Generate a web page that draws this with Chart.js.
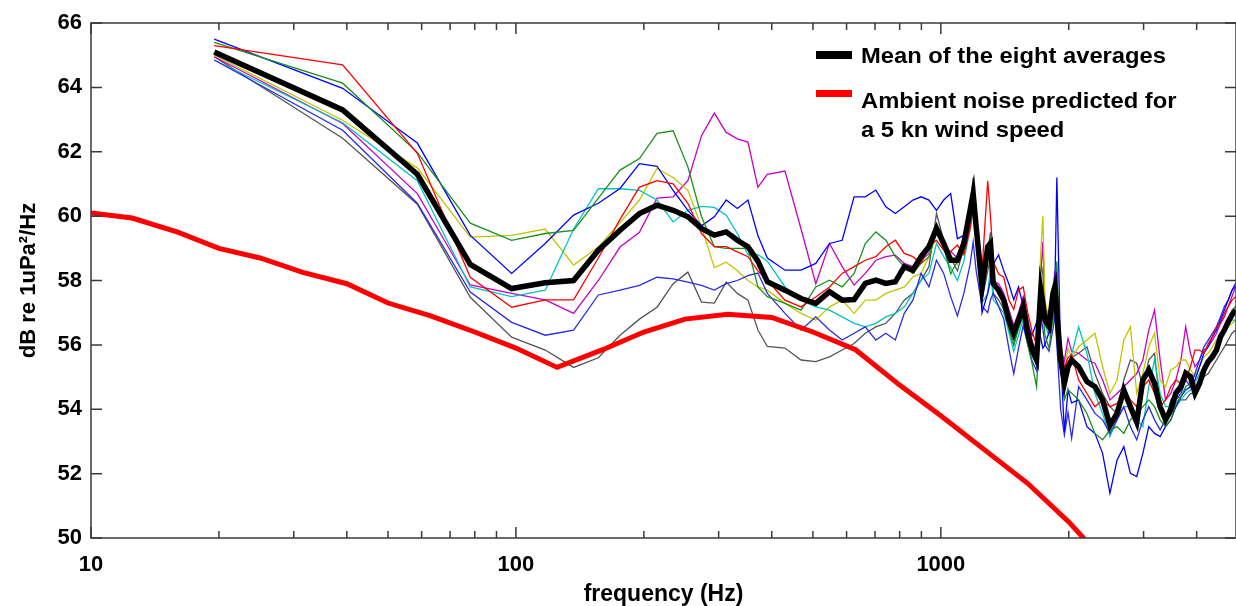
<!DOCTYPE html>
<html>
<head>
<meta charset="utf-8">
<script src="https://cdn.jsdelivr.net/npm/chart.js@4.4.1/dist/chart.umd.min.js"></script>
<style>
  html, body { margin: 0; padding: 0; background: #fff; }
</style>
</head>
<body>
<canvas id="myChart" width="1236" height="606"></canvas>
<script>
// frequency bins (Hz) of the eight averaged spectra
const freqs = [
  19.5, 39.1, 58.6, 78.1, 97.7, 117.2, 136.7, 156.3, 175.8, 195.3, 214.8, 234.4, 253.9, 273.4, 293.0, 312.5, 332.0, 351.6, 371.1, 390.6,
  429.7, 468.8, 507.8, 546.9, 585.9, 625.0, 664.1, 703.1, 742.2, 781.3, 820.3, 859.4, 898.4, 937.5, 976.6, 1015.6,
  1054.7, 1093.8, 1132.8, 1171.9, 1191.4, 1210.9, 1250.0, 1289.1, 1308.6, 1328.1, 1367.2, 1406.3, 1445.3, 1484.4, 1523.4, 1562.5, 1601.6, 1640.6, 1679.7, 1718.8, 1738.3, 1757.8, 1796.9, 1835.9, 1855.5, 1875.0, 1914.1, 1953.1, 1992.2, 2031.3,
  2109.4, 2207.0, 2304.7, 2402.3, 2500.0, 2597.7, 2695.3, 2793.0, 2890.6, 2988.3, 3085.9, 3183.6, 3281.3, 3378.9, 3476.6, 3574.2, 3671.9, 3769.5, 3867.2, 3964.8, 4062.5, 4160.2, 4257.8, 4355.5, 4453.1, 4550.8, 4648.4, 4746.1, 4843.8, 4941.4
];

const meanLevel = [
  65.1, 63.3, 61.3, 58.5, 57.75, 57.93, 58.0, 58.94, 59.56, 60.08, 60.34, 60.18, 59.98, 59.62, 59.41, 59.51, 59.25, 59.05, 58.6, 57.96,
  57.7, 57.44, 57.29, 57.65, 57.39, 57.41, 57.91, 58.01, 57.91, 57.96, 58.43, 58.32, 58.74, 59.05, 59.62, 59.15,
  58.63, 58.63, 59.15, 60.19, 60.7, 59.67, 57.8, 59.05, 59.15, 57.91, 57.7, 57.39, 56.77, 56.36, 56.77, 57.19, 56.36, 55.84, 55.53, 57.7, 57.29, 56.77, 56.57, 57.6, 57.81, 56.98, 55.53, 54.81, 55.32, 55.53,
  55.32, 54.86, 54.7, 54.29, 53.5, 53.87, 54.6, 54.08, 53.6, 54.91, 55.22, 54.8, 54.08, 53.67, 53.98, 54.5, 54.7, 55.12, 55.01, 54.5, 54.8, 55.22, 55.48, 55.63, 55.84, 56.25, 56.46, 56.72, 56.93, 57.08
];

const avgRed = [
  65.3, 64.7, 61.95, 58.1, 57.17, 57.4, 57.4, 58.7, 59.9, 60.9, 61.1, 61.0, 60.4, 59.46, 59.05, 59.05, 58.89, 58.74, 58.3, 58.0,
  57.39, 57.18, 57.49, 57.8, 58.22, 58.43, 58.63, 58.74, 59.05, 59.25, 58.84, 58.74, 58.53, 59.05, 59.25, 58.94,
  58.9, 59.1, 58.8, 59.6, 60.3, 59.4, 58.3, 61.1, 60.0, 58.6, 58.2, 58.1, 57.4, 57.1, 57.7, 57.8, 57.0, 56.4, 56.0, 57.4, 57.0, 57.1, 56.8, 57.4, 57.7, 57.2, 56.0, 55.3, 55.6, 55.7,
  54.91, 54.49, 54.08, 54.29, 54.08, 54.18, 54.49, 54.29, 54.08, 54.7, 54.91, 54.49, 54.08, 54.29, 54.7, 54.91, 54.8, 54.91, 55.32, 55.84, 55.84, 55.74, 56.04, 56.25, 56.56, 56.67, 56.98, 57.19, 57.39, 57.5
];

const avgGreen = [
  65.4, 64.13, 61.98, 59.78, 59.25, 59.46, 59.56, 60.56, 61.43, 61.79, 62.57, 62.65, 61.53, 59.98, 59.05, 59.0, 59.0, 59.0, 57.8, 57.5,
  57.29, 57.08, 57.8, 58.01, 57.8, 58.22, 59.15, 59.51, 59.25, 58.74, 58.43, 58.22, 58.53, 58.74, 59.46, 59.05,
  58.2, 58.6, 58.9, 59.8, 60.2, 59.5, 57.5, 58.6, 59.4, 57.9, 57.6, 57.4, 56.5, 56.0, 56.5, 56.9, 56.0, 55.4, 54.7, 57.2, 57.0, 56.3, 55.9, 56.8, 57.3, 58.6, 55.3, 54.3, 54.6, 54.5,
  54.29, 53.87, 53.25, 53.05, 53.36, 53.46, 53.25, 53.67, 53.87, 54.08, 54.29, 54.08, 53.67, 53.46, 53.67, 54.18, 54.39, 54.7, 54.8, 54.6, 54.91, 55.32, 55.53, 55.63, 55.94, 56.25, 56.56, 56.77, 57.08, 57.19
];

const avgBlue = [
  65.5, 63.97, 62.27, 59.4, 58.22, 59.15, 60.03, 60.4, 60.86, 61.63, 61.55, 60.8, 60.18, 59.7, 59.98, 60.5, 60.24, 60.5, 59.4, 58.7,
  58.32, 58.32, 58.53, 59.15, 59.25, 60.6, 60.6, 60.81, 60.29, 60.08, 60.29, 60.5, 60.6, 60.5, 60.18, 60.5,
  60.7, 59.3, 59.4, 60.4, 60.9, 59.9, 57.0, 57.6, 58.0, 58.5, 58.8, 58.3, 57.9, 57.4, 57.8, 57.2, 56.6, 56.3, 56.7, 56.2, 55.9, 56.0, 56.4, 56.8, 57.9, 61.2, 55.6, 53.3, 54.6, 54.2,
  54.29, 53.46, 53.25, 52.63, 51.39, 52.42, 52.84, 52.01, 51.91, 52.63, 53.46, 53.25, 53.15, 53.46, 53.67, 54.08, 54.39, 54.6, 54.7, 54.91, 55.32, 55.74, 55.94, 56.25, 56.46, 56.77, 57.08, 57.39, 57.7, 57.91
];

const avgBlue2 = [
  64.85, 62.67, 60.4, 57.64, 56.7, 56.3, 56.46, 57.55, 57.7, 57.85, 58.1, 58.05, 57.95, 57.85, 57.7, 57.9, 58.0, 58.15, 58.23, 57.6,
  56.98, 56.46, 56.87, 56.46, 56.15, 56.36, 56.56, 56.15, 56.36, 56.15, 56.98, 57.39, 58.22, 57.8, 58.63, 58.22,
  57.5, 56.9, 57.6, 58.5, 59.2, 58.3, 57.2, 57.0, 57.4, 57.6, 57.2, 56.8, 55.9, 55.1, 55.9, 56.6, 56.0, 55.5, 55.2, 56.9, 56.5, 56.0, 55.8, 56.5, 56.9, 56.0, 54.0, 53.2, 53.9, 53.1,
  54.7, 54.29, 53.87, 53.67, 53.25, 53.67, 54.08, 53.46, 53.05, 53.67, 54.08, 53.67, 53.36, 53.67, 53.87, 54.29, 54.49, 54.91, 54.7, 55.11, 55.53, 55.94, 56.15, 56.36, 56.56, 56.87, 57.19, 57.39, 57.7, 57.81
];

const avgCyan = [
  64.85, 62.9, 61.1, 57.8, 57.5, 57.7, 59.6, 60.85, 60.85, 60.8, 60.5, 59.82, 60.18, 60.3, 60.27, 60.03, 59.46, 58.8, 58.8, 58.6,
  57.8, 57.39, 57.18, 57.08, 56.87, 56.67, 56.56, 56.67, 56.87, 56.98, 57.18, 57.6, 58.01, 58.22, 59.15, 58.74,
  58.4, 58.0, 58.6, 59.6, 60.2, 59.3, 57.3, 57.6, 58.4, 57.4, 57.2, 57.0, 56.4, 55.8, 56.3, 56.8, 56.1, 55.7, 55.4, 57.6, 57.2, 56.6, 56.3, 57.2, 57.6, 56.8, 55.6, 55.0, 55.3, 55.7,
  56.56, 55.74, 54.49, 53.87, 53.15, 53.67, 54.08, 54.08, 53.67, 53.46, 54.7, 55.53, 54.49, 54.08, 54.08, 54.08, 54.29, 54.49, 54.6, 54.8, 55.11, 55.32, 55.53, 55.74, 55.94, 56.25, 56.46, 56.67, 56.77, 56.77
];

const avgYellow = [
  65.0, 62.98, 61.5, 59.35, 59.4, 59.6, 58.48, 59.04, 59.8, 60.5, 61.48, 61.2, 60.8, 59.66, 58.4, 58.57, 58.3, 58.0, 57.8, 57.7,
  57.29, 56.98, 56.77, 57.18, 57.39, 56.98, 57.39, 57.39, 57.6, 57.7, 57.8, 58.11, 58.22, 58.74, 59.67, 59.15,
  58.8, 58.5, 59.3, 60.3, 60.6, 59.8, 57.6, 58.5, 59.2, 57.9, 57.6, 57.3, 56.9, 56.5, 56.9, 57.3, 56.7, 56.0, 55.8, 58.9, 60.0, 57.4, 56.7, 57.4, 57.6, 57.0, 55.7, 55.1, 55.9, 55.6,
  55.94, 56.15, 56.36, 55.32, 54.49, 54.91, 56.15, 56.56, 54.49, 55.11, 55.94, 56.36, 54.91, 54.7, 55.22, 55.32, 55.53, 55.53, 55.22, 55.01, 55.32, 55.63, 55.74, 55.94, 56.15, 56.36, 56.46, 56.56, 56.67, 56.77
];

const avgMagenta = [
  64.95, 62.88, 60.7, 57.86, 57.6, 57.4, 56.98, 58.0, 59.04, 59.5, 60.56, 60.6, 61.1, 62.5, 63.2, 62.6, 62.4, 62.3, 60.9, 61.3,
  61.4, 59.6, 57.9, 59.15, 58.43, 57.86, 58.22, 58.63, 58.74, 58.79, 58.53, 58.43, 58.63, 58.84, 59.67, 59.05,
  58.9, 58.7, 59.4, 60.4, 60.9, 59.9, 57.7, 58.9, 59.5, 58.0, 57.9, 57.6, 57.1, 56.6, 57.0, 57.5, 56.8, 56.1, 55.8, 58.2, 59.2, 57.2, 56.9, 57.7, 58.3, 57.4, 55.9, 55.5, 56.2, 55.8,
  55.74, 55.53, 55.43, 54.91, 54.29, 54.49, 54.7, 54.91, 55.11, 55.53, 56.46, 57.08, 55.53, 54.29, 54.49, 54.91, 55.53, 56.56, 55.74, 55.32, 55.53, 55.84, 55.94, 56.15, 56.36, 56.67, 56.87, 57.19, 57.5, 57.81
];

const avgGray = [
  64.95, 62.42, 60.37, 57.48, 56.24, 55.84, 55.3, 55.6, 56.3, 56.8, 57.17, 57.9, 58.26, 57.33, 57.3, 57.95, 57.6, 57.39, 56.46, 55.95,
  55.9, 55.53, 55.48, 55.63, 55.84, 56.04, 56.36, 56.56, 56.67, 56.98, 57.39, 57.6, 58.01, 58.43, 60.08, 59.25,
  58.7, 58.3, 59.0, 60.3, 61.2, 59.6, 57.4, 58.3, 58.8, 57.6, 57.4, 57.1, 56.5, 56.0, 56.6, 57.0, 56.3, 55.8, 55.5, 58.6, 58.2, 56.9, 56.5, 57.5, 58.0, 57.1, 55.6, 54.9, 55.4, 55.6,
  55.74, 55.94, 55.11, 54.49, 54.08, 53.87, 54.91, 55.53, 55.43, 54.7, 55.53, 55.74, 54.08, 53.67, 54.29, 54.49, 54.29, 54.29, 54.49, 54.49, 54.8, 55.01, 55.11, 55.32, 55.53, 55.74, 55.94, 56.15, 56.36, 56.46
];

// predicted ambient noise, 5 kn wind (third-octave centres)
const ambientFreqs = [10, 12.5, 16, 20, 25, 31.5, 40, 50, 63, 80, 100, 125, 160, 200, 250, 315, 400, 500, 630, 800, 1000, 1250, 1600, 2000, 2500];
const ambientLevel = [60.1, 59.94, 59.5, 59.0, 58.7, 58.25, 57.9, 57.3, 56.9, 56.4, 55.9, 55.3, 55.85, 56.4, 56.8, 56.95, 56.85, 56.4, 55.85, 54.75, 53.8, 52.8, 51.7, 50.5, 49.1];

const xTickLabels = [10, 100, 1000];
const legendLines = [['Mean of the eight averages'], ['Ambient noise predicted for', 'a 5 kn wind speed']];

const thinSeries = [
  ['red', avgRed, '#ff0000'],
  ['green', avgGreen, '#18901c'],
  ['blue', avgBlue, '#0000ff'],
  ['blue 2', avgBlue2, '#2a2ae6'],
  ['cyan', avgCyan, '#00c4c4'],
  ['yellow', avgYellow, '#c4c400'],
  ['magenta', avgMagenta, '#c800c8'],
  ['gray', avgGray, '#555555']
];

function pts(xs, ys) {
  if (xs.length !== ys.length) throw new Error('length mismatch ' + xs.length + ' vs ' + ys.length);
  return xs.map(function(x, i) { return {x: x, y: ys[i]}; });
}

const FONT = '"Liberation Sans", Arial, Helvetica, sans-serif';
Chart.defaults.font.family = FONT;
Chart.defaults.color = '#000';

const datasets = [
  { label: 'Mean of the eight averages', data: pts(freqs, meanLevel), borderColor: '#000', borderWidth: 5.5 },
  { label: 'Ambient noise predicted for a 5 kn wind speed', data: pts(ambientFreqs, ambientLevel), borderColor: '#ff0000', borderWidth: 5 }
];
thinSeries.forEach(function(s) {
  datasets.push({ label: s[0], data: pts(freqs, s[1]), borderColor: s[2], borderWidth: 1.3 });
});

// box round the plot with inward tick marks
const axisFrame = {
  id: 'axisFrame',
  afterDraw(chart) {
    const ctx = chart.ctx;
    const a = chart.chartArea;
    const x = chart.scales.x, y = chart.scales.y;
    ctx.save();
    ctx.strokeStyle = '#3a3a3a';
    ctx.lineWidth = 1.5;
    ctx.strokeRect(a.left, a.top, a.right - a.left, a.bottom - a.top);
    ctx.beginPath();
    y.ticks.forEach(function(t) {
      const py = y.getPixelForValue(t.value);
      ctx.moveTo(a.left, py); ctx.lineTo(a.left + 11, py);
      ctx.moveTo(a.right, py); ctx.lineTo(a.right - 11, py);
    });
    x.ticks.forEach(function(t) {
      const exp = Math.floor(Math.log10(t.value) + 1e-9);
      const m = t.value / Math.pow(10, exp);
      if (Math.abs(m - Math.round(m)) > 1e-6) return;
      const len = Math.abs(m - 1) < 1e-6 ? 11 : 7;
      const px = x.getPixelForValue(t.value);
      ctx.moveTo(px, a.bottom); ctx.lineTo(px, a.bottom - len);
      ctx.moveTo(px, a.top); ctx.lineTo(px, a.top + len);
    });
    ctx.stroke();
    ctx.restore();
  }
};

const noteLegend = {
  id: 'noteLegend',
  afterDraw(chart) {
    const ctx = chart.ctx;
    const items = [
      { color: chart.data.datasets[0].borderColor, width: 8, lineY: 55, base: [62.5], lines: legendLines[0] },
      { color: chart.data.datasets[1].borderColor, width: 7, lineY: 93.5, base: [108, 136.5], lines: legendLines[1] }
    ];
    ctx.save();
    items.forEach(function(it) {
      ctx.strokeStyle = it.color;
      ctx.lineWidth = it.width;
      ctx.beginPath();
      ctx.moveTo(816, it.lineY); ctx.lineTo(852, it.lineY);
      ctx.stroke();
      ctx.fillStyle = '#000';
      ctx.font = 'bold 22px ' + FONT;
      ctx.textBaseline = 'alphabetic';
      it.lines.forEach(function(txt, i) {
        ctx.save();
        ctx.translate(861, it.base[i]);
        ctx.scale(1.08, 1);
        ctx.fillText(txt, 0, 0);
        ctx.restore();
      });
    });
    ctx.restore();
  }
};

const ctx = document.getElementById('myChart').getContext('2d');
const chart = new Chart(ctx, {
  type: 'line',
  data: { datasets: datasets },
  plugins: [axisFrame, noteLegend],
  options: {
    responsive: false,
    animation: false,
    devicePixelRatio: 1,
    layout: { padding: { top: 23, right: 0, left: 0, bottom: 0 } },
    elements: { point: { radius: 0 }, line: { tension: 0 } },
    plugins: { legend: { display: false }, tooltip: { enabled: false } },
    scales: {
      x: {
        type: 'logarithmic',
        min: 10,
        max: 4950,
        border: { display: false },
        grid: { display: false, drawTicks: false },
        ticks: {
          autoSkip: false,
          maxRotation: 0,
          padding: 14,
          color: '#000',
          font: { size: 22, weight: 'bold' },
          callback: function(v) { return xTickLabels.includes(v) ? String(v) : ''; }
        },
        title: { display: true, text: 'frequency (Hz)', color: '#000', font: { size: 23, weight: 'bold' }, padding: { top: 0, bottom: -2 } },
        afterFit: function(s) { s.height = 68; s.paddingLeft = 0; s.paddingRight = 0; }
      },
      y: {
        min: 50,
        max: 66,
        border: { display: false },
        grid: { display: false, drawTicks: false },
        ticks: { stepSize: 2, padding: 9, color: '#000', font: { size: 22, weight: 'bold' } },
        title: { display: true, text: 'dB re 1uPa²/Hz', color: '#000', font: { size: 22, weight: 'bold' }, padding: { top: 16, bottom: 0 } },
        afterFit: function(s) { s.width = 91; s.paddingTop = 0; s.paddingBottom = 0; }
      }
    }
  }
});
</script>
</body>
</html>
